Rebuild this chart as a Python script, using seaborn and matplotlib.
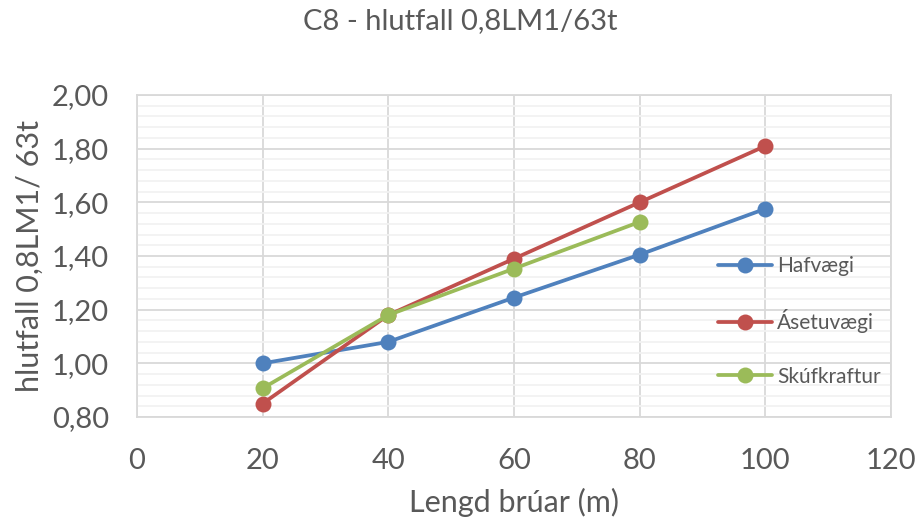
import matplotlib
matplotlib.use("Agg")
import matplotlib.pyplot as plt
import matplotlib.ticker as mticker
import pandas as pd
import seaborn as sns

# Bridge length (m) and ratio 0.8LM1 / 63t for each load type
lengths_hafvaegi = [20, 40, 60, 80, 100]
hafvaegi = [1.00, 1.08, 1.245, 1.405, 1.576]

lengths_asetuvaegi = [20, 40, 60, 80, 100]
asetuvaegi = [0.85, 1.18, 1.39, 1.60, 1.81]

lengths_skufkraftur = [20, 40, 60, 80]
skufkraftur = [0.907, 1.18, 1.353, 1.527]

series_names = ["Hafvægi", "Ásetuvægi", "Skúfkraftur"]
series_colors = ["#4F81BD", "#C0504D", "#9BBB59"]

title = "C8 - hlutfall 0,8LM1/63t"
x_label = "Lengd brúar (m)"
y_label = "hlutfall 0,8LM1/ 63t"

frames = []
for name, xs, ys in zip(series_names,
                        [lengths_hafvaegi, lengths_asetuvaegi, lengths_skufkraftur],
                        [hafvaegi, asetuvaegi, skufkraftur]):
    frames.append(pd.DataFrame({"lengd": xs, "hlutfall": ys, "rod": name}))
df = pd.concat(frames, ignore_index=True)

sns.set_theme(style="white")
plt.rcParams["font.family"] = ["Lato", "DejaVu Sans"]
text_color = "#595959"

fig = plt.figure(figsize=(9.2, 5.24), dpi=100)
ax = fig.add_axes([0.1489, 0.2042, 0.8196, 0.6145])

sns.lineplot(data=df, x="lengd", y="hlutfall", hue="rod", hue_order=series_names,
             palette=series_colors, marker="o", markersize=11.5, markeredgewidth=0,
             linewidth=2.7, sort=False, ax=ax, zorder=3)

ax.set_xlim(0, 120)
ax.set_ylim(0.8, 2.0)
ax.xaxis.set_major_locator(mticker.MultipleLocator(20))
ax.yaxis.set_major_locator(mticker.MultipleLocator(0.2))
ax.yaxis.set_minor_locator(mticker.MultipleLocator(0.04))
ax.yaxis.set_major_formatter(mticker.FuncFormatter(lambda v, p: f"{v:.2f}".replace(".", ",")))

ax.grid(which="major", axis="both", color="#d9d9d9", linewidth=1.3, zorder=0)
ax.grid(which="minor", axis="y", color="#f2f2f2", linewidth=1.3, zorder=0)
ax.set_axisbelow(True)
for sp in ax.spines.values():
    sp.set_color("#d9d9d9")
    sp.set_linewidth(1.3)

ax.tick_params(axis="both", which="both", length=0, labelsize=21, colors=text_color)
ax.tick_params(axis="y", pad=20)
ax.tick_params(axis="x", pad=22)

ax.set_xlabel(x_label, fontsize=22, color=text_color, labelpad=10)
ax.set_ylabel(y_label, fontsize=22, color=text_color, labelpad=6)
fig.suptitle(title, fontsize=21, color=text_color, y=0.985)

handles, labels = ax.get_legend_handles_labels()
leg = ax.legend(handles, labels, loc="upper left", bbox_to_anchor=(0.77, 0.5),
                borderaxespad=0, borderpad=0, frameon=False, fontsize=15,
                handlelength=2.6, handletextpad=0.25, labelspacing=1.6)
for t in leg.get_texts():
    t.set_color(text_color)

fig.savefig("out.png", dpi=100)
